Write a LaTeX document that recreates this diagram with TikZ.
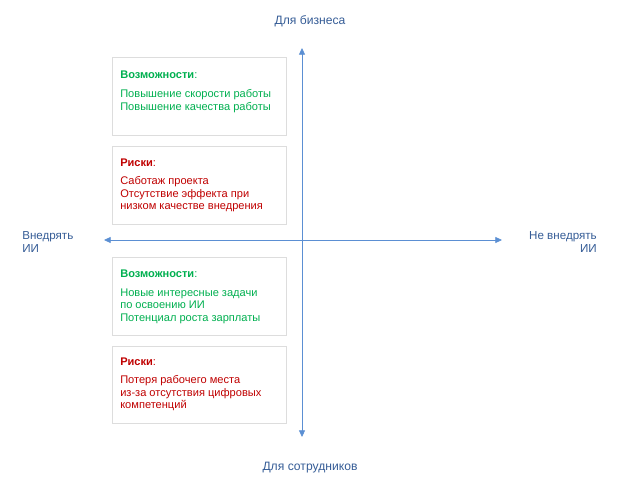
\documentclass[tikz,border=0pt]{standalone}
\usepackage{fontspec}
\setmainfont{Liberation Sans}
\usetikzlibrary{arrows.meta}
\definecolor{axisblue}{HTML}{5B8FD3}
\definecolor{labelblue}{HTML}{355C96}
\definecolor{boxgray}{HTML}{DDDDDD}
\definecolor{oppgreen}{HTML}{00B050}
\definecolor{riskred}{HTML}{C00000}
\tikzset{
  txt/.style={font=\fontsize{8.3}{9.4}\selectfont, inner sep=0pt, align=left},
  panel/.style={draw=boxgray, line width=0.75pt, fill=white},
  axis/.style={draw=axisblue, line width=0.6pt, -{Triangle[width=4.5pt,length=5pt]}},
  axlabel/.style={txt, text=labelblue, font=\fontsize{8.7}{9.2}\selectfont},
}
\begin{document}
\begin{tikzpicture}[x=0.75pt,y=-0.75pt]
\useasboundingbox (0,0) rectangle (620,495);
% axes
\coordinate (c) at (302,240);
\coordinate (top) at (302,48);
\coordinate (bot) at (302,437);
\coordinate (lft) at (104,240);
\coordinate (rgt) at (502,240);
\draw[axis] (c) -- (top);
\draw[axis] (c) -- (bot);
\draw[axis] (c) -- (lft);
\draw[axis] (c) -- (rgt);
% axis labels
\node[axlabel, font=\fontsize{9.1}{10}\selectfont, anchor=center] (lbus) at (310,21) {Для бизнеса};
\node[axlabel, font=\fontsize{9.1}{10}\selectfont, anchor=center] (lemp) at (310,468) {Для сотрудников};
\node[axlabel, anchor=west, align=left] (lyes) at (22,242) {Внедрять\\ИИ};
\node[axlabel, anchor=east, align=right] (lno) at (597,242) {Не внедрять\\ИИ};
% boxes
\draw[panel] (112,58) rectangle (286,136);
\draw[panel] (112,147) rectangle (286,224);
\draw[panel] (112,257) rectangle (286,335);
\draw[panel] (112,346) rectangle (286,423);
% box 1
\node[txt, anchor=west, text=oppgreen] (t1) at (120,75) {\textbf{Возможности}:};
\node[txt, anchor=west, text=oppgreen] (b1) at (120,101) {Повышение скорости работы\\Повышение качества работы};
% box 2
\node[txt, anchor=west, text=riskred] (t2) at (120,163) {\textbf{Риски}:};
\node[txt, anchor=west, text=riskred] (b2) at (120,194.5) {Саботаж проекта\\Отсутствие эффекта при\\низком качестве внедрения};
% box 3
\node[txt, anchor=west, text=oppgreen] (t3) at (120,274) {\textbf{Возможности}:};
\node[txt, anchor=west, text=oppgreen] (b3) at (120,306) {Новые интересные задачи\\по освоению ИИ\\Потенциал роста зарплаты};
% box 4
\node[txt, anchor=west, text=riskred] (t4) at (120,362) {\textbf{Риски}:};
\node[txt, anchor=west, text=riskred] (b4) at (120,393.5) {Потеря рабочего места\\из-за отсутствия цифровых\\компетенций};
\end{tikzpicture}
\end{document}
